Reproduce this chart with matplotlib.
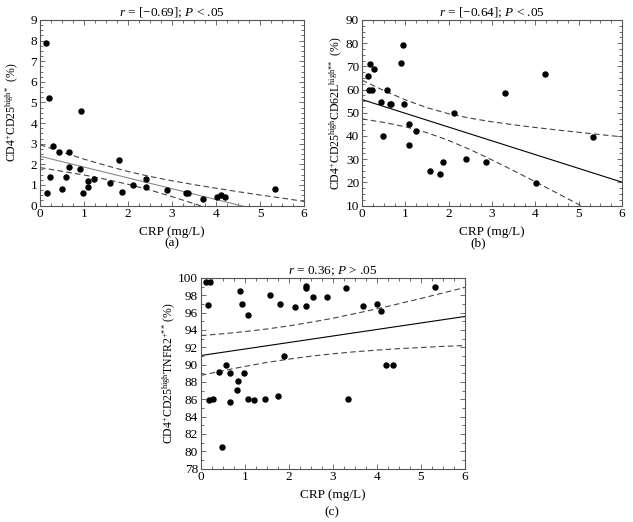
"""Recreate the three CRP correlation scatter panels (a), (b), (c)."""

import matplotlib

matplotlib.use("Agg")
import matplotlib.pyplot as plt
from matplotlib.ticker import MultipleLocator

plt.rcParams["font.family"] = ["Liberation Serif", "DejaVu Serif"]
plt.rcParams["mathtext.fontset"] = "custom"
plt.rcParams["mathtext.rm"] = "Liberation Serif"
plt.rcParams["mathtext.it"] = "Liberation Serif:italic"
plt.rcParams["mathtext.bf"] = "Liberation Serif:bold"

# ---- panel (a): CD4+CD25high ----
a_crp = [0.14, 0.20, 0.29, 0.43, 0.66, 0.22, 0.16, 0.49, 0.58, 0.67,
         0.94, 0.92, 0.98, 1.09, 1.09, 1.23, 1.58, 1.80, 1.87, 2.11,
         2.41, 2.41, 2.88, 3.32, 3.37, 3.71, 4.02, 4.12, 4.21, 5.34]
a_val = [7.90, 5.20, 2.89, 2.60, 2.58, 1.39, 0.61, 0.79, 1.39, 1.89,
         4.60, 1.79, 0.61, 1.20, 0.89, 1.29, 1.11, 2.20, 0.65, 0.99,
         1.28, 0.89, 0.76, 0.61, 0.61, 0.31, 0.39, 0.52, 0.40, 0.79]

# ---- panel (b): CD4+CD25highCD62Lhigh ----
b_crp = [0.13, 0.18, 0.28, 0.15, 0.22, 0.57, 0.43, 0.64, 0.68, 0.48,
         0.94, 0.89, 0.98, 1.08, 1.08, 1.24, 1.58, 1.79, 1.88, 2.12,
         2.40, 2.87, 3.30, 4.01, 4.22, 5.33]
b_val = [65.9, 70.9, 69.0, 59.8, 59.8, 59.8, 54.8, 53.8, 53.8, 40.0,
         79.2, 71.6, 53.8, 45.0, 36.0, 42.2, 24.9, 23.6, 28.8, 49.8,
         30.0, 28.8, 58.5, 19.9, 66.9, 39.6]

# ---- panel (c): CD4+CD25highTNFR2+ ----
c_crp = [0.11, 0.20, 0.15, 0.89, 0.93, 1.07, 1.56, 1.80, 2.13, 2.39,
         2.39, 2.39, 2.55, 0.41, 0.56, 0.65, 0.98, 0.84, 0.81, 0.18,
         0.28, 0.65, 1.07, 1.21, 1.45, 1.75, 1.88, 0.48, 2.86, 3.30,
         3.70, 4.01, 4.10, 4.21, 4.37, 3.35, 5.32]
c_val = [99.5, 99.5, 96.9, 98.5, 97.0, 95.7, 98.0, 97.0, 96.6, 99.1,
         98.9, 96.8, 97.8, 89.2, 90.0, 89.0, 89.0, 88.1, 87.1, 85.9,
         86.0, 85.7, 86.0, 85.9, 86.0, 86.4, 91.0, 80.5, 97.8, 98.9,
         96.8, 97.0, 96.2, 90.0, 90.0, 86.0, 99.0]

# regression line ends and confidence bands
fit_x = [0, 6]
a_fit = [2.39, -0.76]
b_fit = [55.7, 20.06]
c_fit = [91.05, 95.55]

band_x = [0, 0.5, 1, 1.5, 2, 2.5, 3, 3.5, 4, 4.5, 5, 5.5, 6]
a_upper = [2.95, 2.59, 2.25, 1.94, 1.65, 1.41, 1.20, 1.01, 0.84, 0.67, 0.51, 0.36, 0.20]
a_lower = [1.84, 1.66, 1.48, 1.27, 1.03, 0.75, 0.43, 0.09, -0.26, -0.62, -0.98, -1.35, -1.72]
b_upper = [64.05, 59.61, 55.57, 52.18, 49.57, 47.63, 46.10, 44.81, 43.65, 42.58, 41.56, 40.57, 39.61]
b_lower = [47.35, 45.85, 43.95, 41.40, 38.07, 34.07, 29.66, 25.01, 20.23, 15.36, 10.44, 5.49, 0.51]
c_upper = [93.35, 93.56, 93.81, 94.11, 94.47, 94.89, 95.35, 95.88, 96.43, 97.02, 97.63, 98.26, 98.90]
c_lower = [88.75, 89.30, 89.79, 90.25, 90.63, 90.97, 91.25, 91.48, 91.67, 91.84, 91.97, 92.10, 92.20]

titles = [
    r"$r$ = [−0.69]; $P$ < .05",
    r"$r$ = [−0.64]; $P$ < .05",
    r"$r$ = 0.36; $P$ > .05",
]
ylabels = [
    r"CD4$^{+}$CD25$^{\mathrm{high}{*}}$  (%)",
    r"CD4$^{+}$CD25$^{\mathrm{high}}$CD62L$^{\mathrm{high}{*}{*}}$  (%)",
    r"CD4$^{+}$CD25$^{\mathrm{high}}$TNFR2$^{+{*}{*}}$ (%)",
]
sublabels = ["(a)", "(b)", "(c)"]

W, H = 633, 522
FRAME = "#555555"


def px_axes(fig, left, top, right, bottom):
    return fig.add_axes([left / W, 1 - bottom / H, (right - left) / W, (bottom - top) / H])


def style_axes(ax, ylim, ymajor, yminor):
    ax.set_xlim(0, 6)
    ax.set_ylim(*ylim)
    ax.xaxis.set_major_locator(MultipleLocator(1))
    ax.xaxis.set_minor_locator(MultipleLocator(0.25))
    ax.yaxis.set_major_locator(MultipleLocator(ymajor))
    ax.yaxis.set_minor_locator(MultipleLocator(yminor))
    ax.tick_params(which="both", direction="in", top=True, right=True,
                   color=FRAME, width=0.6, labelsize=9.5, pad=2)
    ax.tick_params(which="major", length=3.5)
    ax.tick_params(which="minor", length=2)
    for spine in ax.spines.values():
        spine.set_color(FRAME)
        spine.set_linewidth(0.8)


def draw_panel(ax, x, y, fit_y, fit_color, upper, lower):
    ax.plot(band_x, upper, ls=(0, (5, 3)), color="#444444", lw=0.8)
    ax.plot(band_x, lower, ls=(0, (5, 3)), color="#444444", lw=0.8)
    ax.plot(fit_x, fit_y, color=fit_color, lw=0.8)
    ax.plot(x, y, "o", color="black", ms=3.6, ls="none")


fig = plt.figure(figsize=(W / 100, H / 100), dpi=100)

ax_a = px_axes(fig, 40, 20, 304, 205.5)
ax_b = px_axes(fig, 362, 20, 622, 205.5)
ax_c = px_axes(fig, 201, 278, 464.5, 468.5)

draw_panel(ax_a, a_crp, a_val, a_fit, "#888888", a_upper, a_lower)
style_axes(ax_a, (0, 9), 1, 0.25)
draw_panel(ax_b, b_crp, b_val, b_fit, "black", b_upper, b_lower)
style_axes(ax_b, (10, 90), 10, 2.5)
draw_panel(ax_c, c_crp, c_val, c_fit, "black", c_upper, c_lower)
style_axes(ax_c, (78, 100), 2, 1)

label_x = [-0.075, -0.069, -0.091]
sub_pos = [(172, 243), (478, 243), (332, 512)]
for ax, title, ylab, sub, lx, (sx, sy) in zip(
        [ax_a, ax_b, ax_c], titles, ylabels, sublabels, label_x, sub_pos):
    ax.set_title(title, fontsize=9.5, pad=3)
    ax.set_xlabel("CRP (mg/L)", fontsize=9.5, labelpad=4)
    ax.set_ylabel(ylab, fontsize=8.5)
    ax.yaxis.set_label_coords(lx, 0.5)
    fig.text(sx / W, 1 - sy / H, sub, fontsize=9.5, ha="center", va="center")

fig.savefig("out.png", dpi=100)
plt.close(fig)
